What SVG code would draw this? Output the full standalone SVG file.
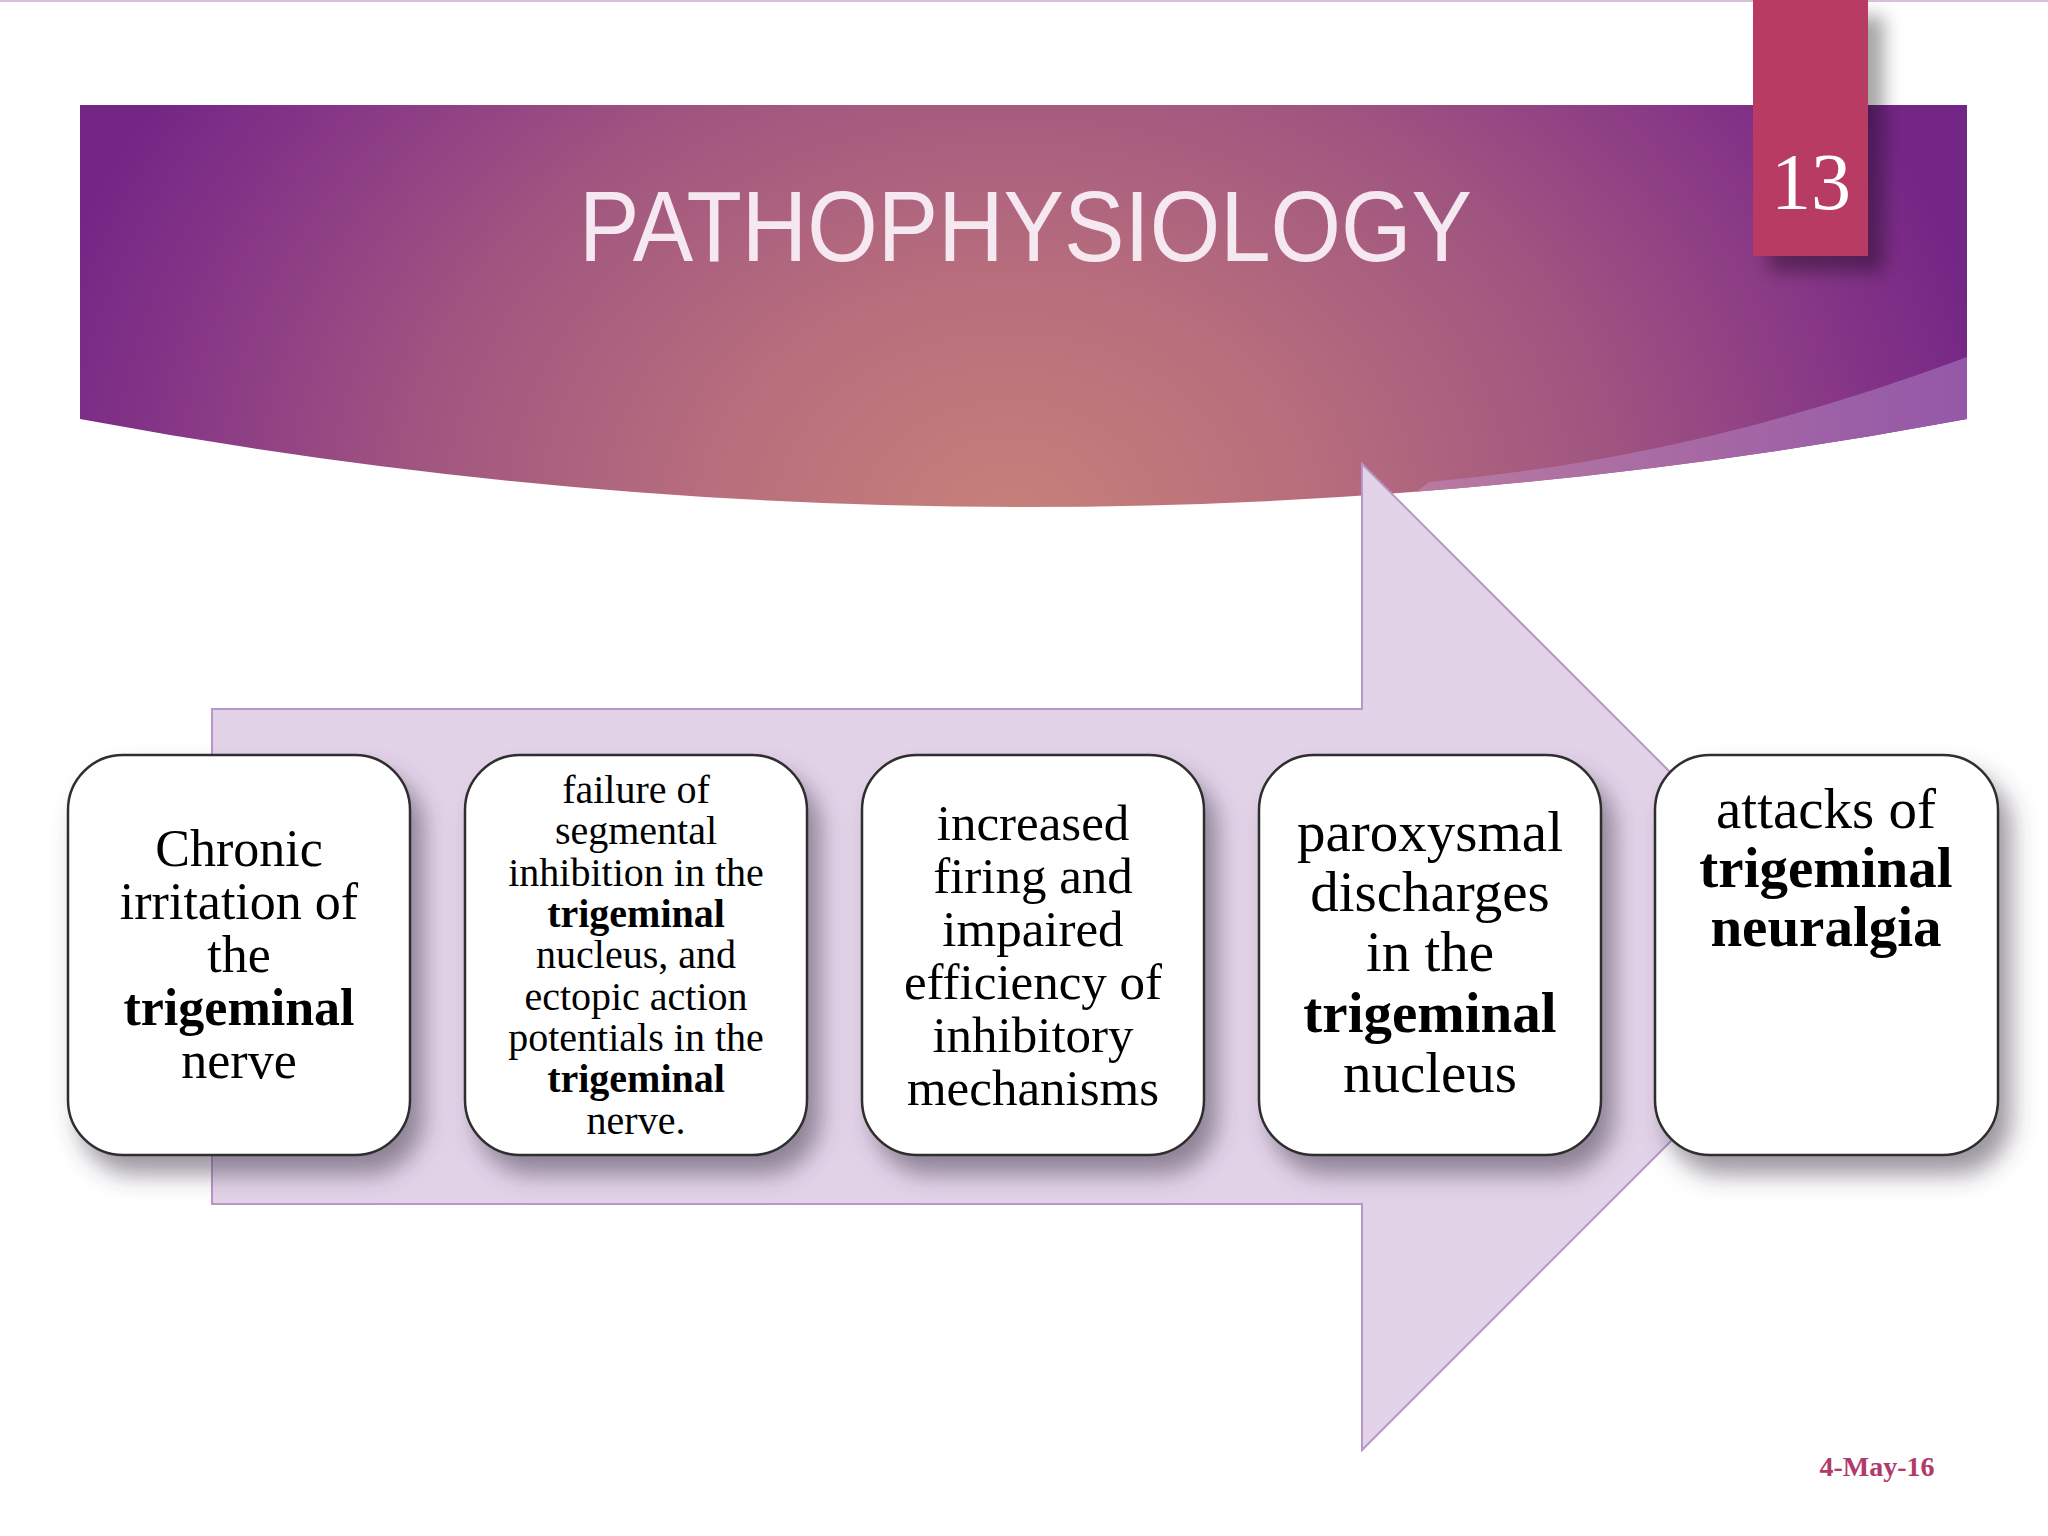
<svg xmlns="http://www.w3.org/2000/svg" width="2048" height="1536" viewBox="0 0 2048 1536">
<defs>
  <radialGradient id="bannerGrad" gradientUnits="userSpaceOnUse" cx="1010" cy="520" r="1000" gradientTransform="translate(1010 520) scale(1 0.8) translate(-1010 -520)">
    <stop offset="0" stop-color="#C8807A"/>
    <stop offset="0.3" stop-color="#B86E7C"/>
    <stop offset="0.6" stop-color="#A05580"/>
    <stop offset="0.85" stop-color="#863686"/>
    <stop offset="1" stop-color="#742686"/>
  </radialGradient>
  <linearGradient id="sliverGrad" x1="1420" y1="0" x2="1967" y2="0" gradientUnits="userSpaceOnUse">
    <stop offset="0" stop-color="#B87AA0"/>
    <stop offset="1" stop-color="#9458A8"/>
  </linearGradient>
  <clipPath id="bannerClip">
    <path d="M80,105 H1967 V419 Q1024,595 80,419 Z"/>
  </clipPath>
  <filter id="boxShadow" x="-20%" y="-20%" width="150%" height="150%">
    <feDropShadow dx="12" dy="18" stdDeviation="12" flood-color="#4a4050" flood-opacity="0.55"/>
  </filter>
  <filter id="tabShadow" x="-50%" y="-20%" width="200%" height="150%">
    <feDropShadow dx="16" dy="16" stdDeviation="9" flood-color="#000" flood-opacity="0.35"/>
  </filter>
  <style>
    .box { fill: #FFFFFF; stroke: #2E2E2E; stroke-width: 2.5; filter: url(#boxShadow); }
    .t { font-family: "Liberation Serif", "Times New Roman", serif; fill: #000; text-anchor: middle; }
    .b { font-weight: bold; }
    .f52 { font-size: 52px; }
    .f40 { font-size: 40px; }
    .f51 { font-size: 51px; }
    .f57 { font-size: 57px; }
  </style>
</defs>
<rect x="0" y="0" width="2048" height="1536" fill="#FFFFFF"/>
<line x1="0" y1="1" x2="2048" y2="1" stroke="#D8C2D8" stroke-width="2"/>

<g id="banner">
  <path d="M80,105 H1967 V419 Q1024,595 80,419 Z" fill="url(#bannerGrad)"/>
  <path d="M1967,357 Q1698,458 1429,482 L1380,520 L1380,620 L1967,620 Z" fill="url(#sliverGrad)" clip-path="url(#bannerClip)"/>
  <text x="579" y="261" font-family="Liberation Sans, Arial, sans-serif" font-size="100" fill="#F6E8F0" textLength="893" lengthAdjust="spacingAndGlyphs">PATHOPHYSIOLOGY</text>
</g>

<g id="page-number">
  <rect x="1753" y="0" width="115" height="256" fill="#B83A64" filter="url(#tabShadow)"/>
  <text x="1811" y="209" font-family="Liberation Serif, 'Times New Roman', serif" font-size="80" fill="#FFFFFF" text-anchor="middle">13</text>
</g>

<g id="connectors">
  <path d="M212,709 H1362 V464 L1855,957 L1362,1450 V1204 H212 Z" fill="#E3D3E9" stroke="#B896C8" stroke-width="2"/>
</g>

<g id="node1">
  <rect class="box" x="68" y="755" width="342" height="400" rx="55" ry="55"/>
  <text class="t f52" x="239" y="866">Chronic</text>
  <text class="t f52" x="239" y="919">irritation of</text>
  <text class="t f52" x="239" y="972">the</text>
  <text class="t f52 b" x="239" y="1025">trigeminal</text>
  <text class="t f52" x="239" y="1078">nerve</text>
</g>

<g id="node2">
  <rect class="box" x="465" y="755" width="342" height="400" rx="55" ry="55"/>
  <text class="t f40" x="636" y="803">failure of</text>
  <text class="t f40" x="636" y="844">segmental</text>
  <text class="t f40" x="636" y="886">inhibition in the</text>
  <text class="t f40 b" x="636" y="927">trigeminal</text>
  <text class="t f40" x="636" y="968">nucleus, and</text>
  <text class="t f40" x="636" y="1010">ectopic action</text>
  <text class="t f40" x="636" y="1051">potentials in the</text>
  <text class="t f40 b" x="636" y="1092">trigeminal</text>
  <text class="t f40" x="636" y="1134">nerve.</text>
</g>

<g id="node3">
  <rect class="box" x="862" y="755" width="342" height="400" rx="55" ry="55"/>
  <text class="t f51" x="1033" y="840">increased</text>
  <text class="t f51" x="1033" y="893">firing and</text>
  <text class="t f51" x="1033" y="946">impaired</text>
  <text class="t f51" x="1033" y="999">efficiency of</text>
  <text class="t f51" x="1033" y="1052">inhibitory</text>
  <text class="t f51" x="1033" y="1105">mechanisms</text>
</g>

<g id="node4">
  <rect class="box" x="1259" y="755" width="342" height="400" rx="55" ry="55"/>
  <text class="t f57" x="1430" y="851">paroxysmal</text>
  <text class="t f57" x="1430" y="911">discharges</text>
  <text class="t f57" x="1430" y="971">in the</text>
  <text class="t f57 b" x="1430" y="1032">trigeminal</text>
  <text class="t f57" x="1430" y="1092">nucleus</text>
</g>

<g id="node5">
  <rect class="box" x="1655" y="755" width="343" height="400" rx="55" ry="55"/>
  <text class="t f57" x="1826" y="828">attacks of</text>
  <text class="t f57 b" x="1826" y="887">trigeminal</text>
  <text class="t f57 b" x="1826" y="946">neuralgia</text>
</g>

<g id="footer">
  <text x="1877" y="1476" font-family="Liberation Serif, 'Times New Roman', serif" font-size="28" font-weight="bold" fill="#B03A6A" text-anchor="middle">4-May-16</text>
</g>
</svg>
